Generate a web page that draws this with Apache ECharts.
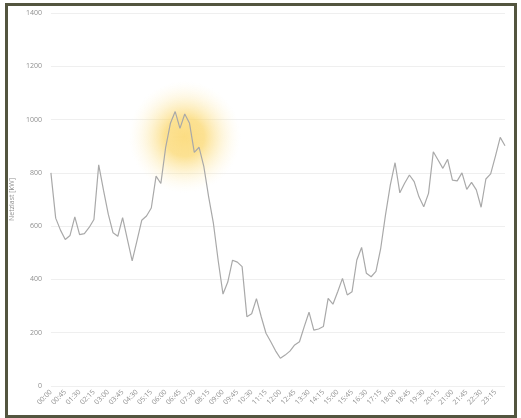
<!DOCTYPE html>
<html>
<head>
<meta charset="utf-8">
<script src="https://cdn.jsdelivr.net/npm/echarts@6/dist/echarts.min.js"></script>
<style>
  html, body { margin: 0; padding: 0; background: #fff; }
  #main { position: absolute; left: 0; top: 0; width: 521px; height: 418px; }
  #frame { position: absolute; left: 5px; top: 3px; width: 506px; height: 409px;
           border: 3px solid #53553f; pointer-events: none; }
</style>
</head>
<body>
<div id="main"></div>
<div id="frame"></div>
<script>
// Netzlast in kW, 15-Minuten-Werte
var times = [];
for (var h = 0; h < 24; h++) {
    for (var m = 0; m < 60; m += 15) {
        times.push((h < 10 ? '0' : '') + h + ':' + (m < 10 ? '0' : '') + m);
    }
}
var netzlast = [
    800, 630, 585, 550, 565, 635, 568, 572, 595, 625, 830, 735,
    645, 575, 562, 632, 550, 470, 545, 622, 638, 668, 788, 760,
    895, 986, 1030, 967, 1021, 986, 877, 896, 823, 710, 610, 470,
    345, 390, 472, 465, 448, 260, 271, 328, 260, 198, 166, 132,
    104, 116, 131, 154, 166, 223, 277, 210, 214, 223, 329, 307,
    354, 404, 342, 354, 473, 520, 423, 410, 430, 517, 642, 754,
    838, 725, 761, 792, 767, 710, 673, 723, 879, 848, 817, 851,
    773, 770, 800, 738, 764, 736, 671, 777, 796, 863, 933, 902
];
var yTicks = [0, 200, 400, 600, 800, 1000, 1200, 1400];

var myChart = echarts.init(document.getElementById('main'));
var labelFont = { color: '#8f8f8f', fontSize: 7, fontFamily: 'Open Sans' };
var option = {
    animation: false,
    grid: { left: 50, right: 16, top: 13, bottom: 32 },
    xAxis: {
        type: 'category',
        data: times,
        boundaryGap: false,
        axisLine: { show: false },
        axisTick: { show: false },
        axisLabel: Object.assign({ interval: 2, rotate: 45, margin: 5 }, labelFont)
    },
    yAxis: {
        type: 'value',
        min: yTicks[0],
        max: yTicks[yTicks.length - 1],
        interval: 200,
        name: 'Netzlast [kW]',
        nameLocation: 'middle',
        nameGap: 31,
        nameTextStyle: labelFont,
        axisLabel: Object.assign({ margin: 9, formatter: function (v) { return String(v); } }, labelFont),
        splitLine: { lineStyle: { color: '#efefef', width: 1 } }
    },
    series: [{
        type: 'line',
        data: netzlast,
        symbol: 'none',
        z: 5,
        lineStyle: { color: '#a9a9a9', width: 1.2 }
    }]
};
myChart.setOption(option);

// gelber Schein um die Morgenspitze
var c = myChart.convertToPixel({ xAxisIndex: 0, yAxisIndex: 0 }, [27.5, 935]);
myChart.setOption({
    graphic: [{
        type: 'circle',
        z: 1,
        shape: { cx: c[0], cy: c[1], r: 56 },
        style: {
            fill: new echarts.graphic.RadialGradient(0.5, 0.5, 0.5, [
                { offset: 0, color: 'rgba(251,212,100,0.8)' },
                { offset: 0.35, color: 'rgba(251,214,105,0.72)' },
                { offset: 0.65, color: 'rgba(252,226,145,0.35)' },
                { offset: 1, color: 'rgba(255,245,215,0)' }
            ])
        }
    }]
});
</script>
</body>
</html>
